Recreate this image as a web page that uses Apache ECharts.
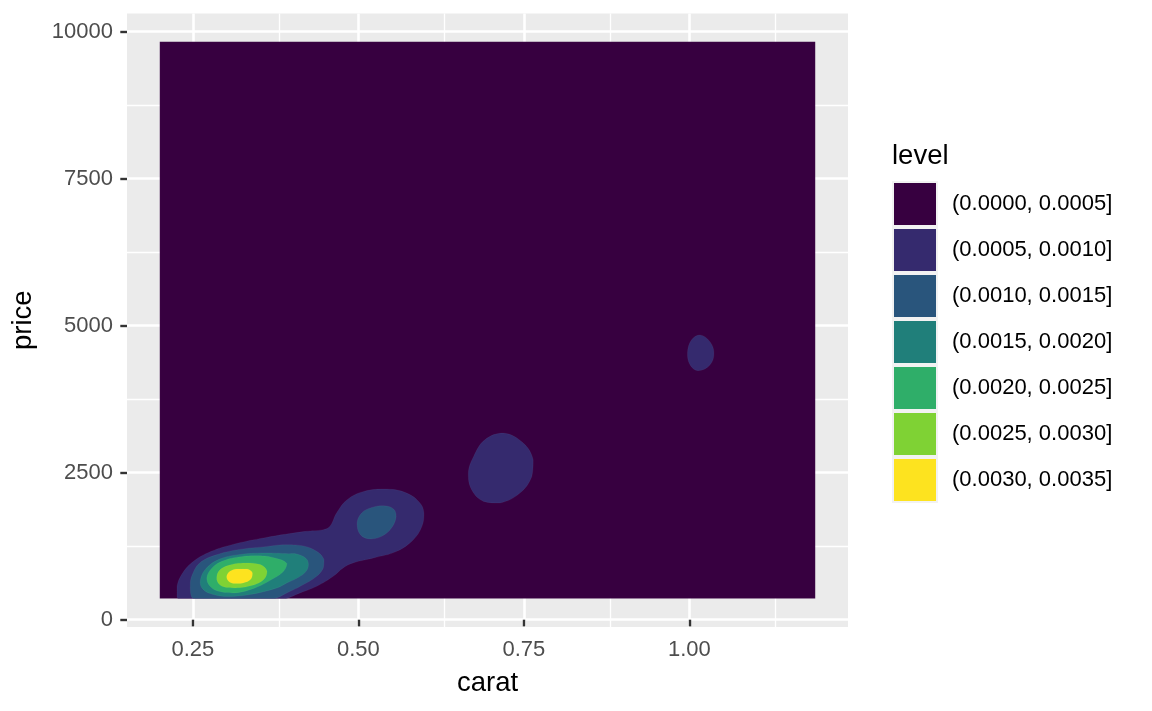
<!DOCTYPE html>
<html><head><meta charset="utf-8">
<script src="https://cdn.jsdelivr.net/npm/echarts@6/dist/echarts.min.js"></script>
<style>html,body{margin:0;padding:0;background:#fff}#c{width:1152px;height:711px}</style>
</head><body><div id="c"></div>
<script>
// ---- data ----
const levelLabels = ['(0.0000, 0.0005]','(0.0005, 0.0010]','(0.0010, 0.0015]','(0.0015, 0.0020]','(0.0020, 0.0025]','(0.0025, 0.0030]','(0.0030, 0.0035]'];
const levelColors = ['#370040','#352A6E','#29557C','#207F7A','#2FAE69','#7FD234','#FDE31F'];
const xTicks = [0.25, 0.5, 0.75, 1.0];
const xTickLabels = ['0.25','0.50','0.75','1.00'];
const xMinor = [0.375, 0.625, 0.875, 1.125];
const yTicks = [0, 2500, 5000, 7500, 10000];
const yTickLabels = ['0','2500','5000','7500','10000'];
const yMinor = [1250, 3750, 6250, 8750];
const xRange = [0.1505, 1.2395];
const yRange = [-124, 10305];

// contour bands (carat, price)
const level1Band = [[0.2,360],[1.19,360],[1.19,9824],[0.2,9824]];
const level2Main = [[0.228,360],[0.226,399],[0.226,568],[0.233,767],[0.2485,971],[0.273,1140],[0.309,1276],[0.359,1395],[0.420,1502],[0.447,1531],[0.457,1587],[0.467,1814],[0.483,2040],[0.508,2181],[0.543,2221],[0.573,2153],[0.593,1984],[0.599,1814],[0.596,1587],[0.583,1361],[0.558,1162],[0.523,1050],[0.492,966],[0.477,881],[0.462,738],[0.437,568],[0.412,456],[0.387,360]];
const level2Mid = [[0.719,3172],[0.749,3002],[0.764,2719],[0.762,2435],[0.744,2153],[0.714,1984],[0.689,2011],[0.671,2209],[0.666,2493],[0.674,2775],[0.691,3058]];
const level2Small = [[1.016,4840],[1.031,4726],[1.037,4529],[1.031,4331],[1.013,4234],[1.001,4331],[0.997,4529],[1.003,4755]];
const level3Main = [[0.2505,360],[0.246,597],[0.2505,801],[0.261,971],[0.284,1098],[0.318,1191],[0.359,1242],[0.389,1276],[0.415,1259],[0.437,1162],[0.448,1022],[0.447,881],[0.437,738],[0.417,597],[0.392,456],[0.371,360]];
const level3Lobe = [[0.498,1644],[0.505,1814],[0.518,1899],[0.538,1938],[0.553,1882],[0.557,1756],[0.550,1560],[0.535,1417],[0.518,1373],[0.503,1446]];
const level4Band = [[0.2636,541],[0.261,653],[0.2686,852],[0.2887,1022],[0.3188,1106],[0.359,1135],[0.394,1123],[0.407,1115],[0.421,1039],[0.4245,937],[0.421,823],[0.409,716],[0.392,626],[0.377,541],[0.3365,428],[0.301,394],[0.276,445]];
const level5Band = [[0.271,711],[0.279,881],[0.294,993],[0.319,1067],[0.349,1089],[0.374,1050],[0.392,954],[0.387,823],[0.369,682],[0.344,541],[0.314,456],[0.289,484],[0.276,568]];
const level6Band = [[0.286,682],[0.289,823],[0.304,925],[0.329,966],[0.352,937],[0.362,823],[0.357,682],[0.339,580],[0.314,541],[0.294,568]];
const level7Band = [[0.301,738],[0.306,823],[0.316,864],[0.332,864],[0.340,796],[0.337,682],[0.326,626],[0.311,614],[0.303,665]];

const contourLevels = [
  [level1Band],
  [level2Main, level2Mid, level2Small],
  [level3Main, level3Lobe],
  [level4Band],
  [level5Band],
  [level6Band],
  [level7Band]
];

// ---- chart ----
const FONT = '"Liberation Sans", Arial, Helvetica, sans-serif';
const chart = echarts.init(document.getElementById('c'), null, {renderer: 'canvas'});

const gridLines = [];
xMinor.forEach(v => gridLines.push({xAxis: v, lineStyle: {color: '#fff', width: 1.3, type: 'solid'}}));
yMinor.forEach(v => gridLines.push({yAxis: v, lineStyle: {color: '#fff', width: 1.3, type: 'solid'}}));
xTicks.forEach(v => gridLines.push({xAxis: v, lineStyle: {color: '#fff', width: 2.6, type: 'solid'}}));
yTicks.forEach(v => gridLines.push({yAxis: v, lineStyle: {color: '#fff', width: 2.6, type: 'solid'}}));

const series = [{
  type: 'line', name: '_grid', data: [[0.5, 5000]], symbol: 'none', silent: true, z: 0,
  lineStyle: {opacity: 0}, legendHoverLink: false,
  markLine: {z: 0, symbol: 'none', silent: true, animation: false, label: {show: false}, data: gridLines}
}];

function bbox(pts) {
  let minX = Infinity, minY = Infinity, maxX = -Infinity, maxY = -Infinity;
  pts.forEach(p => { minX = Math.min(minX, p[0]); minY = Math.min(minY, p[1]); maxX = Math.max(maxX, p[0]); maxY = Math.max(maxY, p[1]); });
  return [[minX, minY], [maxX, maxY]];
}

levelLabels.forEach((name, i) => {
  series.push({
    type: 'custom', name: name, coordinateSystem: 'cartesian2d', z: 3, silent: true,
    itemStyle: {color: levelColors[i]},
    data: contourLevels[i].map(p => p[0]),
    renderItem: function (params, api) {
      const poly = contourLevels[i][params.dataIndex];
      const pts = poly.map(p => api.coord(p));
      return {
        type: 'polygon',
        shape: {points: pts, smooth: i === 0 ? 0 : 0.4, smoothConstraint: bbox(pts)},
        style: {fill: levelColors[i], stroke: 'rgba(255,255,255,0.08)', lineWidth: 0.5}
      };
    }
  });
});

chart.setOption({
  animation: false,
  textStyle: {fontFamily: FONT},
  grid: {left: 127, right: 304, top: 13.5, bottom: 84, show: true, backgroundColor: '#EBEBEB', borderWidth: 0, containLabel: false},
  title: {text: 'level', left: 892, top: 142, padding: 0, textStyle: {fontSize: 27.5, fontWeight: 'normal', color: '#000', fontFamily: FONT}},
  legend: {
    orient: 'vertical', left: 892, top: 181, padding: 0, itemWidth: 44, itemHeight: 44, itemGap: 0,
    icon: 'rect', selectedMode: false, data: levelLabels,
    itemStyle: {borderColor: '#F2F2F2', borderWidth: 2},
    textStyle: {fontSize: 22, color: '#000', fontFamily: FONT, padding: [0, 0, 0, 10]}
  },
  xAxis: {
    type: 'value', min: xRange[0], max: xRange[1],
    name: 'carat', nameLocation: 'middle', nameGap: 42,
    nameTextStyle: {fontSize: 27.5, color: '#000', fontFamily: FONT},
    axisLine: {show: false}, splitLine: {show: false},
    axisTick: {show: true, length: 6.7, customValues: xTicks, lineStyle: {color: '#333333', width: 2.4}},
    axisLabel: {customValues: xTicks, margin: 12, fontSize: 22, color: '#4D4D4D', fontFamily: FONT,
      formatter: v => xTickLabels[xTicks.indexOf(v)] !== undefined ? xTickLabels[xTicks.indexOf(v)] : ''}
  },
  yAxis: {
    type: 'value', min: yRange[0], max: yRange[1],
    name: 'price', nameLocation: 'middle', nameGap: 90, nameRotate: 90,
    nameTextStyle: {fontSize: 27.5, color: '#000', fontFamily: FONT},
    axisLine: {show: false}, splitLine: {show: false},
    axisTick: {show: true, length: 6.7, customValues: yTicks, lineStyle: {color: '#333333', width: 2.4}},
    axisLabel: {customValues: yTicks, margin: 14, fontSize: 22, color: '#4D4D4D', fontFamily: FONT,
      formatter: v => yTickLabels[yTicks.indexOf(v)] !== undefined ? yTickLabels[yTicks.indexOf(v)] : ''}
  },
  tooltip: {show: false},
  series: series
});
</script>
</body></html>
